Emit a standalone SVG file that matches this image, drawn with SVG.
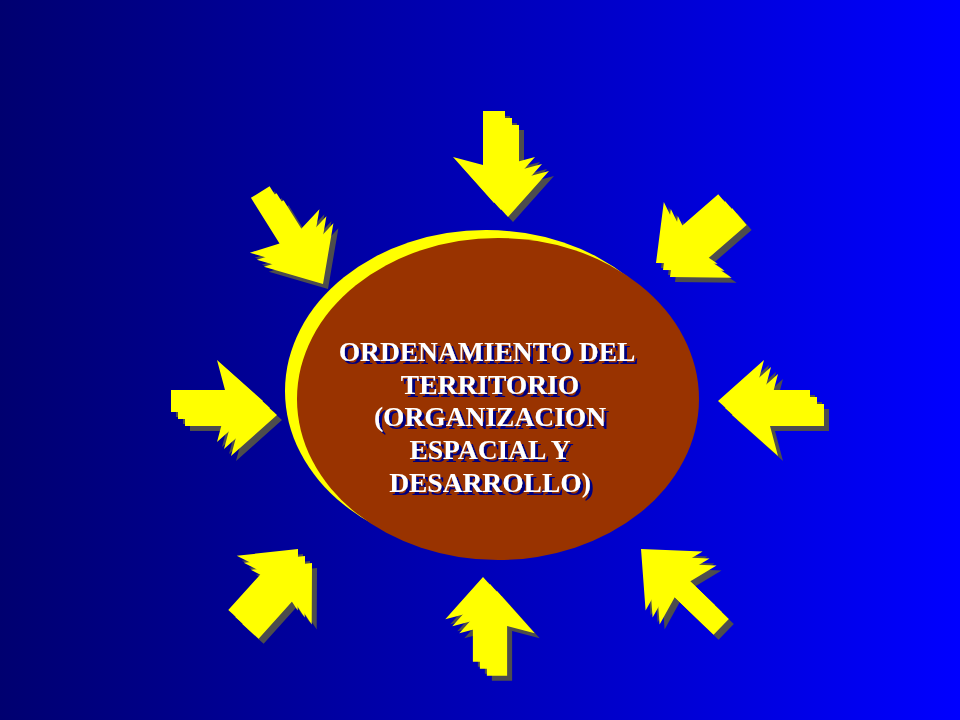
<svg xmlns="http://www.w3.org/2000/svg" width="960" height="720" viewBox="0 0 960 720">
<defs>
<linearGradient id="bg" x1="0" y1="0" x2="1" y2="0">
<stop offset="0" stop-color="#000070"/>
<stop offset="1" stop-color="#0000FF"/>
</linearGradient>
<path id="ar" d="M0,0 L-46,-41 L-38,-11 L-92,-11 L-92,11 L-38,11 L-46,41 Z"/>
<filter id="tsh" x="-10%" y="-10%" width="120%" height="130%">
<feFlood flood-color="#000080" result="c"/>
<feComposite in="c" in2="SourceAlpha" operator="in" result="s"/>
<feOffset in="s" dx="3" dy="3" result="o"/>
<feMerge><feMergeNode in="o"/><feMergeNode in="SourceGraphic"/></feMerge>
</filter>
</defs>
<style>
.y{fill:#FFFF00}
.s{fill:#4D4D4D}
.t{font-family:"Liberation Serif","Times New Roman",serif;font-weight:bold;font-size:27.5px;text-anchor:middle;fill:#FFFFFF}
</style>
<rect x="0" y="0" width="960" height="720" fill="url(#bg)"/>

<g id="center-node">
<ellipse cx="486" cy="391" rx="201" ry="161" fill="#FFFF00"/>
<ellipse cx="498" cy="399" rx="201" ry="161" fill="#993300"/>
<text class="t" filter="url(#tsh)"><tspan x="487" y="361">ORDENAMIENTO DEL</tspan><tspan x="490" y="394">TERRITORIO</tspan><tspan x="490" y="426">(ORGANIZACION</tspan><tspan x="490" y="459">ESPACIAL Y</tspan><tspan x="490" y="492">DESARROLLO)</tspan></text>
</g>

<g id="connectors">
<g id="arrow-top">
<use href="#ar" class="s" transform="translate(513,222) rotate(90)"/>
<use href="#ar" class="s" transform="translate(506,215) rotate(90)"/>
<use href="#ar" class="s" transform="translate(499,208) rotate(90)"/>
<use href="#ar" class="y" transform="translate(508,217) rotate(90)"/>
<use href="#ar" class="y" transform="translate(501,210) rotate(90)"/>
<use href="#ar" class="y" transform="translate(494,203) rotate(90)"/>
</g>
<g id="arrow-top-left">
<use href="#ar" class="s" transform="translate(328,289) rotate(58)"/>
<use href="#ar" class="s" transform="translate(321,282) rotate(58)"/>
<use href="#ar" class="s" transform="translate(314,275) rotate(58)"/>
<use href="#ar" class="y" transform="translate(323,284) rotate(58)"/>
<use href="#ar" class="y" transform="translate(316,277) rotate(58)"/>
<use href="#ar" class="y" transform="translate(309,270) rotate(58)"/>
</g>
<g id="arrow-top-right">
<use href="#ar" class="s" transform="translate(675,282) rotate(139)"/>
<use href="#ar" class="s" transform="translate(668,275) rotate(139)"/>
<use href="#ar" class="s" transform="translate(661,268) rotate(139)"/>
<use href="#ar" class="y" transform="translate(670,277) rotate(139)"/>
<use href="#ar" class="y" transform="translate(663,270) rotate(139)"/>
<use href="#ar" class="y" transform="translate(656,263) rotate(139)"/>
</g>
<g id="arrow-left">
<use href="#ar" class="s" transform="translate(282,420) rotate(0)"/>
<use href="#ar" class="s" transform="translate(275,413) rotate(0)"/>
<use href="#ar" class="s" transform="translate(268,406) rotate(0)"/>
<use href="#ar" class="y" transform="translate(277,415) rotate(0)"/>
<use href="#ar" class="y" transform="translate(270,408) rotate(0)"/>
<use href="#ar" class="y" transform="translate(263,401) rotate(0)"/>
</g>
<g id="arrow-right">
<use href="#ar" class="s" transform="translate(737,420) rotate(180)"/>
<use href="#ar" class="s" transform="translate(730,413) rotate(180)"/>
<use href="#ar" class="s" transform="translate(723,406) rotate(180)"/>
<use href="#ar" class="y" transform="translate(732,415) rotate(180)"/>
<use href="#ar" class="y" transform="translate(725,408) rotate(180)"/>
<use href="#ar" class="y" transform="translate(718,401) rotate(180)"/>
</g>
<g id="arrow-bottom-left">
<use href="#ar" class="s" transform="translate(317,568) rotate(-48)"/>
<use href="#ar" class="s" transform="translate(310,561) rotate(-48)"/>
<use href="#ar" class="s" transform="translate(303,554) rotate(-48)"/>
<use href="#ar" class="y" transform="translate(312,563) rotate(-48)"/>
<use href="#ar" class="y" transform="translate(305,556) rotate(-48)"/>
<use href="#ar" class="y" transform="translate(298,549) rotate(-48)"/>
</g>
<g id="arrow-bottom">
<use href="#ar" class="s" transform="translate(502,596) rotate(-90) scale(0.92)"/>
<use href="#ar" class="s" transform="translate(495,589) rotate(-90) scale(0.92)"/>
<use href="#ar" class="s" transform="translate(488,582) rotate(-90) scale(0.92)"/>
<use href="#ar" class="y" transform="translate(497,591) rotate(-90) scale(0.92)"/>
<use href="#ar" class="y" transform="translate(490,584) rotate(-90) scale(0.92)"/>
<use href="#ar" class="y" transform="translate(483,577) rotate(-90) scale(0.92)"/>
</g>
<g id="arrow-bottom-right">
<use href="#ar" class="s" transform="translate(660,568) rotate(-136)"/>
<use href="#ar" class="s" transform="translate(653,561) rotate(-136)"/>
<use href="#ar" class="s" transform="translate(646,554) rotate(-136)"/>
<use href="#ar" class="y" transform="translate(655,563) rotate(-136)"/>
<use href="#ar" class="y" transform="translate(648,556) rotate(-136)"/>
<use href="#ar" class="y" transform="translate(641,549) rotate(-136)"/>
</g>
</g>
</svg>
